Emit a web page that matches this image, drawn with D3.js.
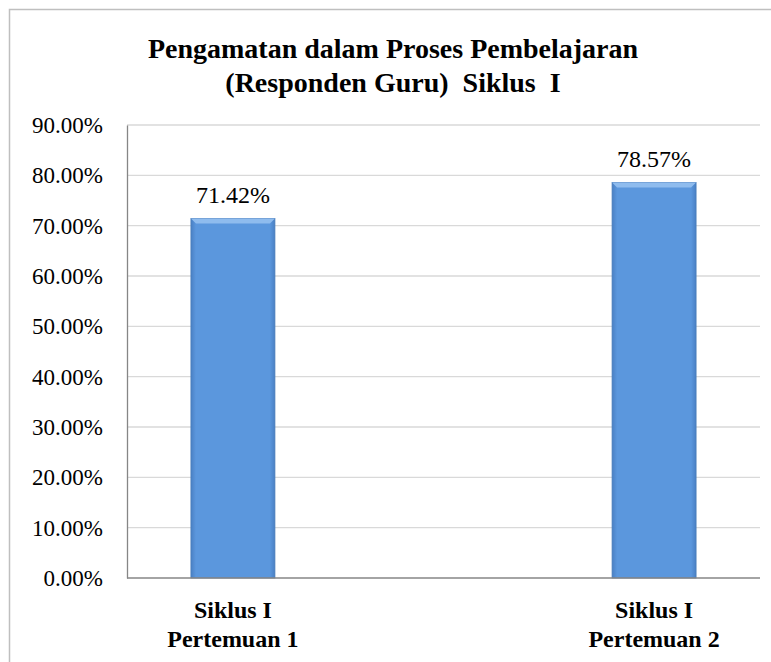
<!DOCTYPE html>
<html><head><meta charset="utf-8">
<script src="https://cdn.jsdelivr.net/npm/d3@7"></script>
<style>
body{margin:0;background:#fff}
html body svg#chart text, html body svg#chart tspan{font-family:"Liberation Serif",Tinos,"Times New Roman",serif !important}
</style>
</head><body>
<script>
const categories = [["Siklus I","Pertemuan 1"],["Siklus I","Pertemuan 2"]];
const values = [71.42, 78.57];
const labels = ["71.42%", "78.57%"];
const yTicks = [0,10,20,30,40,50,60,70,80,90];
const titleLines = ["Pengamatan dalam Proses Pembelajaran", "(Responden Guru)  Siklus  I"];

const FF = '"Liberation Serif", Tinos, "Times New Roman", serif';
const W = 771, H = 662;
const svg = d3.select("body").append("svg").attr("id","chart").attr("width", W).attr("height", H)
  .style("display","block").style("font-family",FF);
const plot = {left:127, right:760, top:125, bottom:578};

svg.append("rect").attr("x",9.5).attr("y",9.5).attr("width",800).attr("height",700)
  .attr("fill","none").attr("stroke","#bfbfbf").attr("stroke-width",1.5);

const defs = svg.append("defs");
const g1 = defs.append("linearGradient").attr("id","barH").attr("x1","0").attr("x2","1").attr("y1","0").attr("y2","0");
g1.append("stop").attr("offset","0").attr("stop-color","#4a80c4");
g1.append("stop").attr("offset","0.06").attr("stop-color","#5b97dd");
g1.append("stop").attr("offset","0.94").attr("stop-color","#5b97dd");
g1.append("stop").attr("offset","1").attr("stop-color","#4a80c4");

svg.append("g").selectAll("text").data(titleLines).join("text")
  .attr("x",393).attr("y",(d,i)=>58+i*34)
  .style("font-family",FF).style("font-weight","bold").style("font-size","28px")
  .style("white-space","pre").attr("text-anchor","middle").attr("fill","#000").text(d=>d);

const y = d3.scaleLinear().domain([0,90]).range([plot.bottom, plot.top]);
const x = d3.scalePoint().domain(d3.range(values.length)).range([plot.left, plot.right]).padding(0.2515);
const bw = 84;

svg.append("g").selectAll("line").data(yTicks.filter(t=>t>0)).join("line")
  .attr("x1",plot.left).attr("x2",plot.right).attr("y1",d=>y(d)).attr("y2",d=>y(d))
  .attr("stroke","#d9d9d9").attr("stroke-width",1.3);

const yAxis = d3.axisLeft(y).tickValues(yTicks).tickSize(0).tickPadding(24)
  .tickFormat(d=>d.toFixed(2)+"%");
const ya = svg.append("g").attr("transform",`translate(${plot.left},0)`).call(yAxis)
  .attr("font-family",FF).attr("font-size",23);
ya.select(".domain").attr("stroke","#868686").attr("stroke-width",1.3);
ya.selectAll("text").style("font-family",FF).style("font-size","23px").attr("fill","#000");

const bars = svg.append("g").selectAll("g").data(values).join("g");
bars.append("rect").attr("x",(d,i)=>x(i)-bw/2).attr("width",bw)
  .attr("y",d=>y(d)).attr("height",d=>y(0)-y(d))
  .attr("fill","url(#barH)").attr("stroke","#4a7dbb").attr("stroke-width",0.8);
bars.append("path").attr("d",(d,i)=>{
    const x0=x(i)-bw/2, x1=x(i)+bw/2, t=y(d);
    return `M${x0},${t}L${x1},${t}L${x1-5},${t+5}L${x0+5},${t+5}Z`;})
  .attr("fill","#8fbcee");

svg.append("line").attr("x1",plot.left).attr("x2",plot.right).attr("y1",y(0)).attr("y2",y(0))
  .attr("stroke","#868686").attr("stroke-width",1.3);

svg.append("g").selectAll("text").data(values).join("text")
  .attr("x",(d,i)=>x(i)).attr("y",d=>y(d)-16).attr("text-anchor","middle")
  .style("font-family",FF).style("font-size","24px").attr("fill","#000").text((d,i)=>labels[i]);

const cl = svg.append("g").selectAll("text").data(categories).join("text")
  .attr("text-anchor","middle").style("font-family",FF).style("font-weight","bold")
  .style("font-size","24px").attr("fill","#000");
cl.selectAll("tspan").data((d,i)=>d.map(s=>({s,i}))).join("tspan")
  .attr("x",d=>x(d.i)).attr("y",(d,j)=>618+j*29).text(d=>d.s);
</script>
</body></html>
